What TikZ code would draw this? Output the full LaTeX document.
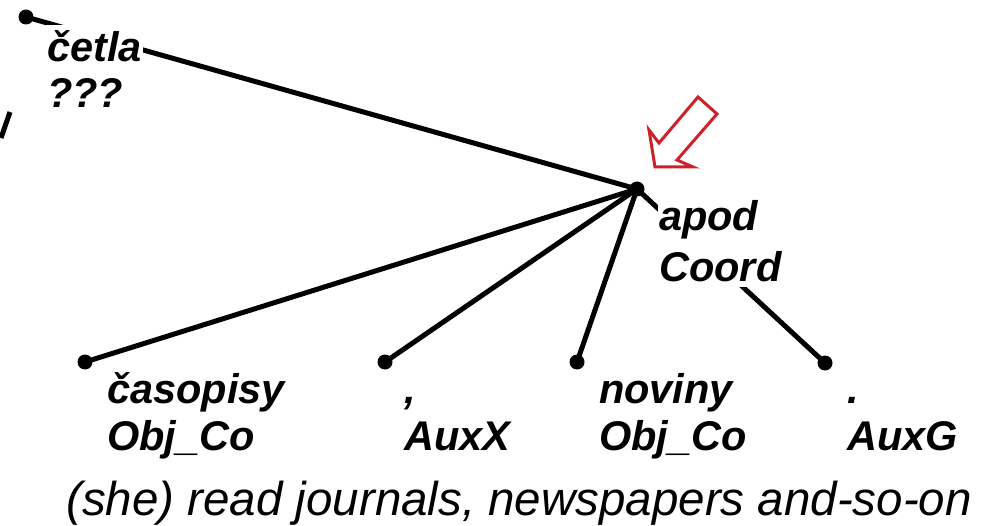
\documentclass[tikz,border=0pt]{standalone}
\usepackage{fontspec}
\setmainfont{Liberation Sans}
\definecolor{arrowred}{HTML}{CC2229}
\pgfdeclarelayer{bg}
\pgfsetlayers{bg,main}
\tikzset{
  dotnode/.style={circle,fill=black,draw=none,minimum size=15pt,inner sep=0pt},
  edgeline/.style={line width=5pt,black},
  lbl/.style={anchor=base west,fill=white,inner xsep=1pt,inner ysep=6pt,
              font=\fontsize{41.5}{48}\selectfont\bfseries\itshape},
  caption/.style={anchor=base west,inner sep=0pt,font=\fontsize{47.5}{52}\selectfont\itshape},
  hollowarrow/.style={draw=arrowred,line width=3pt,line join=miter,fill=none}
}
\begin{document}
\begin{tikzpicture}[x=1pt,y=-1pt]
\useasboundingbox (0,0) rectangle (981,526);
% dots
\node[dotnode] (cetla) at (26,17) {};
\node[dotnode] (apod) at (637,189) {};
\node[dotnode] (casopisy) at (85,362) {};
\node[dotnode] (comma) at (385,362) {};
\node[dotnode] (noviny) at (577,362) {};
\node[dotnode] (period) at (825,363) {};
% stray edge at left border
\coordinate (strayA) at (10,112);
\coordinate (strayB) at (1,138);
\begin{pgfonlayer}{bg}
\draw[edgeline] (cetla.center) -- (apod.center);
\draw[edgeline] (casopisy.center) -- (apod.center);
\draw[edgeline] (comma.center) -- (apod.center);
\draw[edgeline] (noviny.center) -- (apod.center);
\draw[edgeline] (period.center) -- (apod.center);
\draw[edgeline] (strayA) -- (strayB);
\end{pgfonlayer}
% labels
\node[lbl] (l1a) at (46,62) {četla};
\node[lbl] (l1b) at (46,108) {???};
\node[lbl] (l2a) at (658,231) {apod};
\node[lbl] (l2b) at (658,281) {Coord};
\node[lbl] (l3a) at (106,403) {časopisy};
\node[lbl] (l3b) at (106,450) {Obj\_Co};
\node[lbl] (l4a) at (403,403) {,};
\node[lbl] (l4b) at (403,450) {AuxX};
\node[lbl] (l5a) at (598,403) {noviny};
\node[lbl] (l5b) at (598,450) {Obj\_Co};
\node[lbl] (l6a) at (846,403) {.};
\node[lbl] (l6b) at (846,450) {AuxG};
% caption
\node[caption] (cap) at (66,515) {(she) read journals, newspapers and-so-on};
% red hollow arrow
\coordinate (t1) at (698,97);
\coordinate (t2) at (717,114);
\coordinate (ir) at (677,160);
\coordinate (rw) at (693,167);
\coordinate (tip) at (655,167);
\coordinate (lw) at (649,130);
\coordinate (il) at (659,143);
\draw[hollowarrow] (t1) -- (t2) -- (ir) -- (rw) -- (tip) -- (lw) -- (il) -- cycle;
\end{tikzpicture}
\end{document}
